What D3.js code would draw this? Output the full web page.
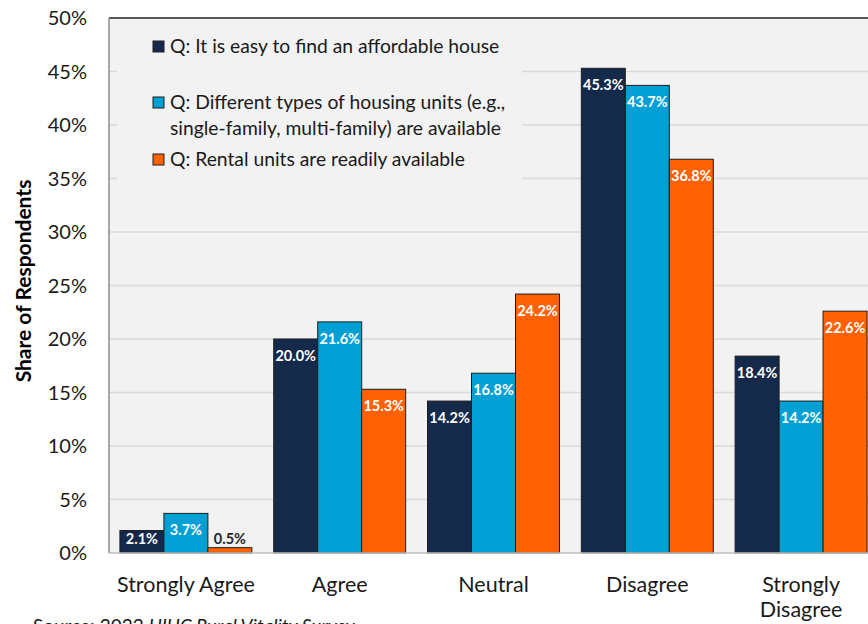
<!DOCTYPE html>
<html>
<head>
<meta charset="utf-8">
<script src="https://cdn.jsdelivr.net/npm/d3@7"></script>
<style>
  body { margin: 0; background: #fff; }
  svg { display: block; font-family: Lato, "Open Sans", sans-serif; }
</style>
</head>
<body>
<svg id="chart" width="868" height="624"></svg>
<script>
var width = 868;
var height = 624;

// data
var categories = ["Strongly Agree", "Agree", "Neutral", "Disagree", "Strongly Disagree"];
var seriesNames = [
    "Q: It is easy to find an affordable house",
    "Q: Different types of housing units (e.g., single-family, multi-family) are available",
    "Q: Rental units are readily available"
];
var affordable = [2.1, 20.0, 14.2, 45.3, 18.4];
var housingTypes = [3.7, 21.6, 16.8, 43.7, 14.2];
var rental = [0.5, 15.3, 24.2, 36.8, 22.6];
var yTicks = [0, 5, 10, 15, 20, 25, 30, 35, 40, 45, 50];

var colors = ["#15294b", "#00a0d4", "#ff6103"];
var series = [affordable, housingTypes, rental];

var margin = {left: 109, top: 18, bottom: 553};
var plotRight = 878;

var svg = d3.select("#chart");

var x = d3.scaleBand()
    .domain(categories)
    .range([margin.left, plotRight])
    .paddingInner(0.142)
    .paddingOuter(0.071);

var xSub = d3.scaleBand()
    .domain(d3.range(series.length))
    .range([0, x.bandwidth()]);

var y = d3.scaleLinear()
    .domain([0, 50])
    .range([margin.bottom, margin.top]);

// plot background
svg.append("rect")
    .attr("x", margin.left)
    .attr("y", margin.top)
    .attr("width", plotRight - margin.left)
    .attr("height", margin.bottom - margin.top)
    .attr("fill", "#f2f2f2");

// gridlines
svg.append("g")
    .selectAll("line")
    .data(yTicks.slice(1, -1))
    .enter()
    .append("line")
    .attr("x1", margin.left)
    .attr("x2", plotRight)
    .attr("y1", function(d){ return y(d); })
    .attr("y2", function(d){ return y(d); })
    .attr("stroke", "#d9d9d9")
    .attr("stroke-width", 1.5);

// legend box hides the gridlines behind it
svg.append("rect")
    .attr("x", 117)
    .attr("y", 26)
    .attr("width", 405)
    .attr("height", 155)
    .attr("fill", "#f2f2f2");

// plot frame
svg.append("line")
    .attr("x1", margin.left).attr("x2", plotRight)
    .attr("y1", margin.top).attr("y2", margin.top)
    .attr("stroke", "#595959").attr("stroke-width", 2);
svg.append("line")
    .attr("x1", margin.left).attr("x2", margin.left)
    .attr("y1", margin.top).attr("y2", margin.bottom)
    .attr("stroke", "#8c8c8c").attr("stroke-width", 1.5);

// bars
var groups = svg.append("g")
    .selectAll("g")
    .data(categories)
    .enter()
    .append("g")
    .attr("transform", function(d){ return "translate(" + x(d) + ",0)"; });

groups.each(function(cat, ci) {
    var g = d3.select(this);
    series.forEach(function(s, si) {
        var v = s[ci];
        g.append("rect")
            .attr("x", xSub(si))
            .attr("y", y(v))
            .attr("width", xSub.bandwidth())
            .attr("height", y(0) - y(v))
            .attr("fill", colors[si])
            .attr("stroke", "#1e1e1e")
            .attr("stroke-width", 1);

        var inside = (y(0) - y(v)) > 12;
        g.append("text")
            .attr("x", xSub(si) + xSub.bandwidth() / 2)
            .attr("y", inside ? Math.min(y(v) + 22, y(0) - 9) : y(v) - 4)
            .attr("text-anchor", "middle")
            .attr("font-size", 14.5)
            .attr("font-weight", "bold")
            .attr("fill", inside ? "#ffffff" : "#262626")
            .text(v.toFixed(1) + "%");
    });
});

// x axis line
svg.append("line")
    .attr("x1", margin.left).attr("x2", plotRight)
    .attr("y1", y(0)).attr("y2", y(0))
    .attr("stroke", "#bfbfbf").attr("stroke-width", 1.5);

// y tick labels
svg.append("g")
    .selectAll("text")
    .data(yTicks)
    .enter()
    .append("text")
    .attr("x", 87)
    .attr("y", function(d){ return y(d) + 7; })
    .attr("text-anchor", "end")
    .attr("font-size", 20)
    .attr("fill", "#1a1a1a")
    .text(function(d){ return d + "%"; });

// category labels
svg.append("g")
    .selectAll("text")
    .data(categories)
    .enter()
    .append("text")
    .attr("x", function(d){ return x(d) + x.bandwidth() / 2; })
    .attr("y", 592)
    .attr("text-anchor", "middle")
    .attr("font-size", 21.5)
    .attr("fill", "#1a1a1a")
    .each(function(d) {
        var t = d3.select(this);
        if (d === "Strongly Disagree") {
            t.append("tspan").attr("x", x(d) + x.bandwidth() / 2).text("Strongly");
            t.append("tspan").attr("x", x(d) + x.bandwidth() / 2).attr("dy", 25).text("Disagree");
        } else {
            t.text(d);
        }
    });

// y axis title
svg.append("text")
    .attr("transform", "translate(31,281) rotate(-90)")
    .attr("text-anchor", "middle")
    .attr("font-size", 21)
    .attr("font-weight", "bold")
    .attr("fill", "#000")
    .text("Share of Respondents");

// legend
var legendRows = [
    {lines: [seriesNames[0]], y: 47},
    {lines: ["Q: Different types of housing units (e.g.,", "single-family, multi-family) are available"], y: 103},
    {lines: [seriesNames[2]], y: 160}
];
var legend = svg.append("g");
legendRows.forEach(function(r, i) {
    legend.append("rect")
        .attr("x", 153)
        .attr("y", r.y - 6)
        .attr("width", 11)
        .attr("height", 11)
        .attr("fill", colors[i])
        .attr("stroke", "#1e1e1e")
        .attr("stroke-width", 1);
    var t = legend.append("text")
        .attr("x", 170)
        .attr("y", r.y + 6)
        .attr("font-size", 19.3)
        .attr("fill", "#1a1a1a");
    r.lines.forEach(function(line, li) {
        t.append("tspan")
            .attr("x", 170)
            .attr("dy", li === 0 ? 0 : 26)
            .text(line);
    });
});

// source note (cut off at the bottom, as in the original)
var src = svg.append("text")
    .attr("x", 33)
    .attr("y", 633)
    .attr("font-size", 19)
    .attr("fill", "#1a1a1a");
src.append("tspan").text("Source: 2022 ");
src.append("tspan").attr("font-style", "italic").text("UIUC Rural Vitality Survey");
</script>
</body>
</html>
